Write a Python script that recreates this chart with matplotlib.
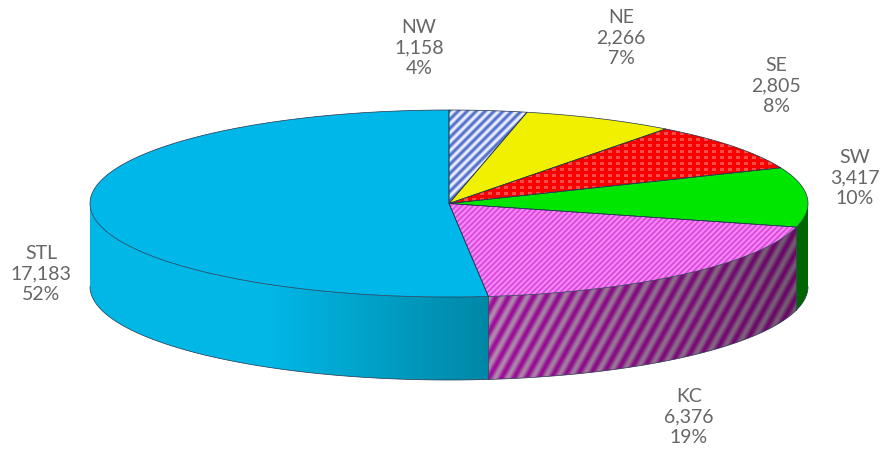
import numpy as np
import matplotlib
matplotlib.use("Agg")
import matplotlib.pyplot as plt
from matplotlib.patches import Polygon

regions = ["NW", "NE", "SE", "SW", "KC", "STL"]
counts = [1158, 2266, 2805, 3417, 6376, 17183]
percents = ["4%", "7%", "8%", "10%", "19%", "52%"]

cx, cy = 449, 203.5
rx, ry = 359, 93.5
depth = 83

label_pos = {"NW": (419, 48), "NE": (621, 38), "SE": (776, 86), "SW": (855, 178),
             "KC": (689, 417), "STL": (41, 274)}

plt.rcParams["font.family"] = ["Lato", "DejaVu Sans"]


def rim(t0, t1, dy=0):
    t = np.radians(np.linspace(t0, t1, 120))
    return np.column_stack([cx + rx * np.sin(t), cy + dy - ry * np.cos(t)])


def texture(ax, poly, rgb):
    # rgb is a (h, w, 3) array covering the whole figure in pixels
    im = ax.imshow(rgb, extent=(0, 884, 457, 0), interpolation="bilinear", zorder=2, aspect="auto")
    im.set_clip_path(poly)


def mix(mask, c0, c1):
    c0 = np.array(matplotlib.colors.to_rgb(c0))
    c1 = np.array(matplotlib.colors.to_rgb(c1))
    return c0 + mask[..., None] * (c1 - c0)


X, Y = np.meshgrid(np.arange(884) + 0.5, np.arange(457) + 0.5)


def stripes(period, slope):
    # soft stripes, the reference is a blurry jpeg
    return 0.5 + 0.5 * np.sin(2 * np.pi * (X + Y * slope) / period)


fig = plt.figure(figsize=(8.84, 4.57), dpi=100)
ax = fig.add_axes([0, 0, 1, 1])

angles = np.concatenate([[0], np.cumsum(counts) / np.sum(counts) * 360])

# pie side, only the front half shows
side_ranges = [(90, angles[4]), (angles[4], angles[5]), (angles[5], 270)]
side_polys = []
for t0, t1 in side_ranges:
    pts = np.vstack([rim(t0, t1), rim(t0, t1, depth)[::-1]])
    p = Polygon(pts, closed=True, facecolor="none", edgecolor="none", zorder=1)
    ax.add_patch(p)
    side_polys.append(p)

side_line = dict(color="#22344c", lw=0.5, zorder=4)

texture(ax, side_polys[0], mix(np.zeros_like(X), "#006400", "#006400"))

kc_dark = np.clip((X - 489) / 300, 0, 1)
kc_side = mix(stripes(12.5, 0.55), "#a00c9c", "#b08cae")
kc_side = kc_side * (1 - 0.35 * kc_dark[..., None])
texture(ax, side_polys[1], kc_side)

stl_shade = np.clip((X - 270) / 219, 0, 1)
texture(ax, side_polys[2], mix(stl_shade, "#00b7e6", "#0087a6"))

# pie top
stripe_nw = mix(stripes(9, 1.0), "#f0f4ff", "#4f6ccc")
stripe_kc = mix(stripes(5.6, 1.0), "#ff8cff", "#d848d8")
dots = (np.sin(2 * np.pi * X / 8) > 0) & (np.sin(2 * np.pi * Y / 6) > 0)
dots_se = mix(dots.astype(float), "#f80000", "#ff4a4a")
top_fill = {"NW": stripe_nw, "SE": dots_se, "KC": stripe_kc}
top_color = {"NE": "#f0f000", "SW": "#00e600", "STL": "#00b7ea"}

for i, name in enumerate(regions):
    pts = np.vstack([[cx, cy], rim(angles[i], angles[i + 1])])
    if name in top_fill:
        p = Polygon(pts, closed=True, facecolor="none", edgecolor="none", zorder=3)
        ax.add_patch(p)
        texture(ax, p, top_fill[name])
    else:
        ax.add_patch(Polygon(pts, closed=True, facecolor=top_color[name], edgecolor="none", zorder=3))
    ax.add_patch(Polygon(pts, closed=True, facecolor="none", edgecolor="#22344c", lw=0.5, zorder=4))

# outer edges of the side
for t0, t1 in side_ranges:
    b = rim(t0, t1, depth)
    ax.plot(b[:, 0], b[:, 1], **side_line)
    if t0 != 90:
        ax.plot([b[0, 0], b[0, 0]], [b[0, 1] - depth, b[0, 1]], **side_line)

for name, n, pct in zip(regions, counts, percents):
    x, y = label_pos[name]
    ax.text(x, y, f"{name}\n{n:,}\n{pct}", ha="center", va="center", fontsize=14,
            color="#666666", linespacing=1.26)

ax.set_xlim(0, 884)
ax.set_ylim(457, 0)
ax.axis("off")

fig.savefig("out.png", dpi=100, facecolor="white")
